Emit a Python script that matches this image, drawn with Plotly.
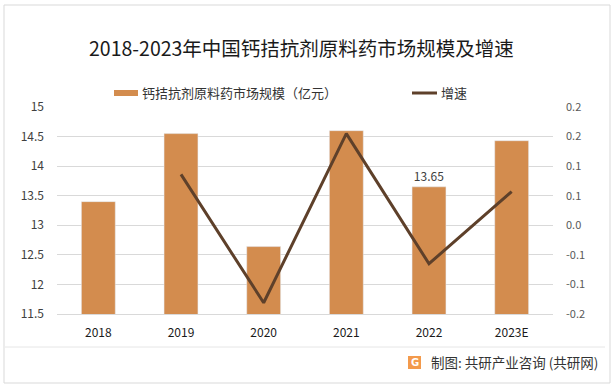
import plotly.graph_objects as go

years = ["2018", "2019", "2020", "2021", "2022", "2023E"]
market_size = [13.40, 14.55, 12.64, 14.60, 13.65, 14.43]
growth = [None, 0.086, -0.131, 0.155, -0.065, 0.057]
label_text = ["", "", "", "", "13.65", ""]

left_ticks = [11.5, 12, 12.5, 13, 13.5, 14, 14.5, 15]
left_ticktext = ["11.5", "12", "12.5", "13", "13.5", "14", "14.5", "15"]
right_ticks = [-0.15, -0.1, -0.05, 0.0, 0.05, 0.1, 0.15, 0.2]
right_ticktext = ["-0.2", "-0.1", "-0.1", "0.0", "0.1", "0.1", "0.2", "0.2"]

bar_name = "钙拮抗剂原料药市场规模（亿元）"
line_name = "增速"

W, H = 616, 388
L, R, T, B = 57, 553, 107, 314

def px(x):
    return (x - L) / (R - L)

def py(y):
    return (B - y) / (B - T)

BAR = "#D38C4E"
LINE = "#5E402A"
FONT = "Noto Sans CJK SC, Microsoft YaHei, sans-serif"

fig = go.Figure()
fig.add_trace(go.Bar(
    x=years, y=market_size, name=bar_name,
    marker_color=BAR, text=label_text, textposition="outside",
    textfont=dict(size=12, color="#404040"), cliponaxis=False,
))
fig.add_trace(go.Scatter(
    x=years, y=growth, name=line_name, yaxis="y2", mode="lines",
    line=dict(color=LINE, width=3),
))

shapes = [
    dict(type="rect", xref="paper", yref="paper",
         x0=px(4), x1=px(610), y0=py(383), y1=py(5),
         line=dict(color="#D9D9D9", width=1), fillcolor="rgba(0,0,0,0)", layer="below"),
    dict(type="line", xref="paper", yref="paper",
         x0=px(5), x1=px(605), y0=py(347), y1=py(347),
         line=dict(color="#E6E6E6", width=1)),
    dict(type="rect", xref="paper", yref="paper",
         x0=px(408), x1=px(421), y0=py(369), y1=py(356),
         line=dict(width=0), fillcolor="#F39A4C"),
    # legend symbols
    dict(type="rect", xref="paper", yref="paper",
         x0=px(114), x1=px(138), y0=py(96), y1=py(90),
         line=dict(width=0), fillcolor=BAR),
    dict(type="line", xref="paper", yref="paper",
         x0=px(412), x1=px(437), y0=py(93), y1=py(93),
         line=dict(color=LINE, width=3)),
]

annotations = [
    dict(text="2018-2023年中国钙拮抗剂原料药市场规模及增速", xref="paper", yref="paper",
         x=px(301), y=py(47), xanchor="center", yanchor="middle", showarrow=False,
         font=dict(size=19.5, color="#1a1a1a", family=FONT)),
    dict(text="制图: 共研产业咨询 (共研网)", xref="paper", yref="paper",
         x=px(600), y=py(362), xanchor="right", yanchor="middle", showarrow=False,
         font=dict(size=13.5, color="#333333", family=FONT)),
    dict(text="<b>G</b>", xref="paper", yref="paper",
         x=px(414.5), y=py(362.5), xanchor="center", yanchor="middle", showarrow=False,
         font=dict(size=10, color="white", family="DejaVu Sans")),
    dict(text=bar_name, xref="paper", yref="paper",
         x=px(140), y=py(93), xanchor="left", yanchor="middle", showarrow=False,
         font=dict(size=13, color="#333333", family=FONT)),
    dict(text=line_name, xref="paper", yref="paper",
         x=px(439), y=py(93), xanchor="left", yanchor="middle", showarrow=False,
         font=dict(size=13, color="#333333", family=FONT)),
]

fig.update_layout(
    width=W, height=H,
    margin=dict(l=L, r=W - R, t=T, b=H - B, pad=0),
    paper_bgcolor="white", plot_bgcolor="white",
    font=dict(family=FONT, size=12, color="#404040"),
    bargap=0.59,
    showlegend=False,
    hovermode=False,
    xaxis=dict(showgrid=False, showline=True, linecolor="#D9D9D9", linewidth=1,
               ticks="", ticklabelstandoff=8,
               tickfont=dict(size=12, color="#1a1a1a"), fixedrange=True),
    yaxis=dict(range=[11.5, 15], tickvals=left_ticks, ticktext=left_ticktext,
               showgrid=True, gridcolor="#D9D9D9", gridwidth=1, zeroline=False,
               showline=False, ticks="", ticklabelstandoff=12,
               tickfont=dict(size=12, color="#404040")),
    yaxis2=dict(range=[-0.15, 0.2], tickvals=right_ticks, ticktext=right_ticktext,
                overlaying="y", side="right", showgrid=False, zeroline=False,
                showline=False, ticks="", ticklabelstandoff=12,
                tickfont=dict(size=11, color="#595959")),
    shapes=shapes, annotations=annotations,
)

fig.write_html("out.html", config={"displayModeBar": False, "staticPlot": True},
               post_script="document.body.style.margin='0';")
